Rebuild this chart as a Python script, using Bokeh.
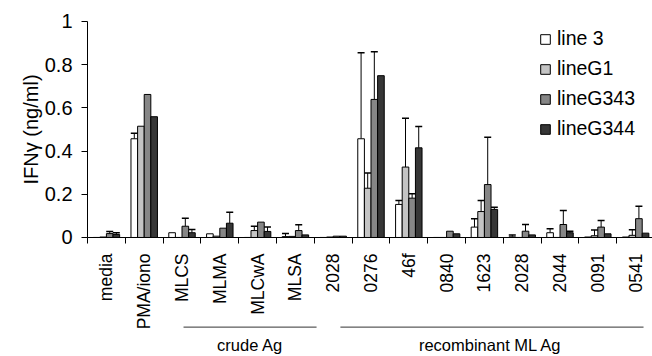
import math
import numpy as np
from bokeh.plotting import figure
from bokeh.models import (ColumnDataSource, Range1d, FixedTicker, Whisker, TeeHead,
                          Legend, LegendItem, Label)
from bokeh.embed import file_html
from bokeh.resources import INLINE

categories = ["media", "PMA/iono", "MLCS", "MLMA", "MLCwA", "MLSA", "2028", "0276",
              "46f", "0840", "1623", "2028", "2044", "0091", "0541"]
series_names = ["line 3", "lineG1", "lineG343", "lineG344"]

line3 = [0.0, 0.457, 0.022, 0.017, 0.0, 0.004, 0.0, 0.457, 0.153, 0.0, 0.048, 0.003, 0.022, 0.002, 0.002]
line3_err = [0.0, 0.026, 0.0, 0.0, 0.0, 0.014, 0.0, 0.398, 0.018, 0.0, 0.039, 0.009, 0.018, 0.0, 0.0]

lineG1 = [0.002, 0.515, 0.0, 0.006, 0.032, 0.005, 0.002, 0.228, 0.326, 0.0, 0.12, 0.0, 0.0, 0.008, 0.01]
lineG1_err = [0.0, 0.0, 0.0, 0.0, 0.02, 0.0, 0.0, 0.07, 0.226, 0.0, 0.051, 0.0, 0.0, 0.027, 0.026]

lineG343 = [0.018, 0.662, 0.052, 0.043, 0.071, 0.032, 0.006, 0.639, 0.182, 0.029, 0.245, 0.029, 0.06, 0.048, 0.087]
lineG343_err = [0.01, 0.0, 0.037, 0.0, 0.0, 0.027, 0.0, 0.221, 0.02, 0.0, 0.219, 0.031, 0.065, 0.031, 0.057]

lineG344 = [0.014, 0.559, 0.022, 0.066, 0.028, 0.012, 0.006, 0.749, 0.415, 0.017, 0.13, 0.012, 0.022, 0.017, 0.02]
lineG344_err = [0.008, 0.0, 0.015, 0.051, 0.02, 0.0, 0.0, 0.0, 0.099, 0.0, 0.01, 0.0, 0.007, 0.0, 0.0]

values = [line3, lineG1, lineG343, lineG344]
errors = [line3_err, lineG1_err, lineG343_err, lineG344_err]
colors = ["#ffffff", "#c4c4c4", "#868686", "#363636"]

y_ticks = [0, 0.2, 0.4, 0.6, 0.8, 1.0]

groups = ["crude Ag", "recombinant ML Ag"]
group_x0 = [2.54, 6.69]
group_x1 = [6.06, 14.71]
group_label_x = [4.3, 10.66]
group_line_y = -0.415
group_label_y = -0.500

FONT = "Liberation Sans"
n = len(categories)
centers = np.arange(n) + 0.5
bar_w = 0.175
offsets = [-1.5 * bar_w, -0.5 * bar_w, 0.5 * bar_w, 1.5 * bar_w]

# frame covers the whole canvas; axes are pinned at the data origin
p = figure(width=652, height=356, x_range=Range1d(-2.302, 14.947),
           y_range=Range1d(-0.551, 1.097),
           output_backend="svg", toolbar_location=None,
           min_border=0, min_border_left=0, min_border_right=0,
           min_border_top=0, min_border_bottom=0)
p.xgrid.visible = False
p.ygrid.visible = False
p.outline_line_color = None
p.background_fill_color = "white"
p.border_fill_color = "white"

renderers = []
for k in range(4):
    xs = centers + offsets[k]
    src = ColumnDataSource(dict(x=xs, top=values[k]))
    r = p.vbar(x="x", top="top", bottom=0, width=bar_w, fill_color=colors[k],
               line_color="black", line_width=1, source=src)
    renderers.append(r)
    err = np.array(errors[k])
    mask = err > 0
    esrc = ColumnDataSource(dict(x=xs[mask], lower=np.array(values[k])[mask],
                                 upper=np.array(values[k])[mask] + err[mask]))
    w = Whisker(base="x", lower="lower", upper="upper", source=esrc, dimension="height",
                line_color="black", line_width=1,
                upper_head=TeeHead(size=7, line_color="black", line_width=1.5),
                lower_head=None)
    p.add_layout(w)

# x axis: labels at category centres, ticks at category boundaries
xa = p.xaxis[0]
xa.fixed_location = 0
xa.bounds = (0, n)
xa.ticker = FixedTicker(ticks=list(centers), minor_ticks=list(range(n + 1)))
xa.major_label_overrides = {float(c): lab for c, lab in zip(centers, categories)}
xa.major_label_orientation = math.pi / 2
xa.major_tick_in = 0
xa.major_tick_out = 0
xa.minor_tick_in = 0
xa.minor_tick_out = 6
xa.minor_tick_line_color = "black"
xa.axis_line_color = "black"
xa.major_label_text_font = FONT
xa.major_label_text_font_size = "17.5px"
xa.major_label_text_color = "black"
xa.major_label_standoff = 10

ya = p.yaxis[0]
ya.fixed_location = 0
ya.bounds = (0, 1)
ya.ticker = FixedTicker(ticks=y_ticks)
ya.major_label_overrides = {0: "0", 1: "1"}
ya.major_tick_in = 0
ya.major_tick_out = 6
ya.minor_tick_line_color = None
ya.axis_line_color = "black"
ya.major_tick_line_color = "black"
ya.major_label_text_font = FONT
ya.major_label_text_font_size = "20px"
ya.major_label_text_color = "black"
ya.major_label_standoff = 9

p.add_layout(Label(x=-1.495, y=0.5, text="IFN\u03b3 (ng/ml)", angle=math.pi / 2,
                   text_align="center", text_baseline="alphabetic",
                   text_font=FONT, text_font_size="20px", text_color="black"))

legend = Legend(items=[LegendItem(label=nm, renderers=[r]) for nm, r in zip(series_names, renderers)],
                location=(539, 216), glyph_width=12, glyph_height=12, label_height=22,
                spacing=7, padding=0, margin=0, border_line_color=None,
                background_fill_alpha=0, label_text_font=FONT, label_text_font_size="19.5px",
                label_standoff=6, label_text_color="black")
p.add_layout(legend)

gsrc = ColumnDataSource(dict(x0=group_x0, x1=group_x1,
                             y=[group_line_y] * len(groups)))
p.segment(x0="x0", y0="y", x1="x1", y1="y", line_color="#333333", line_width=1, source=gsrc)
tsrc = ColumnDataSource(dict(x=group_label_x, y=[group_label_y] * len(groups), t=groups))
p.text(x="x", y="y", text="t", text_align="center", text_baseline="middle",
       text_font={"value": FONT}, text_font_size={"value": "16.5px"}, text_color="black",
       source=tsrc)

open("out.html", "w").write(file_html(p, INLINE))
